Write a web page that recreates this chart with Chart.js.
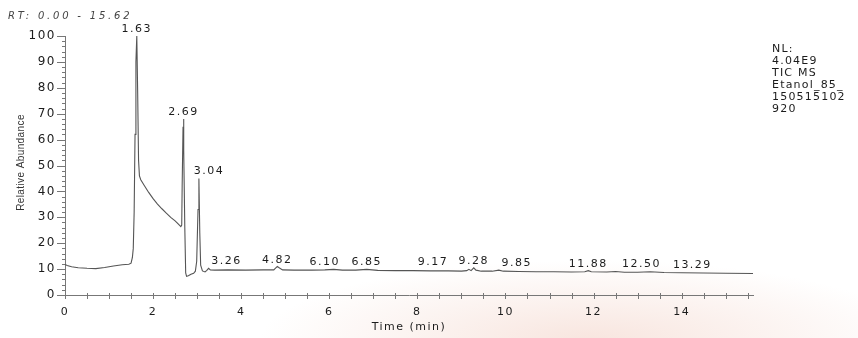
<!DOCTYPE html>
<html>
<head>
<meta charset="utf-8">
<title>TIC MS – Etanol_85</title>
<script src="https://cdn.jsdelivr.net/npm/chart.js@4/dist/chart.umd.min.js"></script>
<style>
  html, body { margin: 0; padding: 0; background: #fff; }
  #wrap {
    position: relative; width: 858px; height: 338px;
    background:
      radial-gradient(ellipse 330px 80px at 590px 340px, rgba(242, 208, 196, 0.55), rgba(255, 255, 255, 0) 100%),
      #fff;
  }
  canvas { display: block; }
</style>
</head>
<body>
<div id="wrap"><canvas id="c" width="858" height="338"></canvas></div>
<script>
// Total ion chromatogram: retention time (min) and relative abundance (%)
const times = [
  0.00, 0.05, 0.15, 0.30, 0.50, 0.70, 0.90, 1.10, 1.30, 1.45,
  1.50, 1.53, 1.55, 1.57, 1.59, 1.61, 1.63, 1.65, 1.67, 1.69,
  1.72, 1.80, 1.90, 2.00, 2.10, 2.20, 2.30, 2.40, 2.50, 2.58,
  2.63, 2.65, 2.66, 2.68, 2.69, 2.70, 2.72, 2.74, 2.76, 2.80,
  2.86, 2.92, 2.96, 2.99, 3.02, 3.04, 3.06, 3.08, 3.12, 3.18,
  3.22, 3.26, 3.30, 3.40, 3.70, 4.10, 4.50, 4.74, 4.78, 4.82,
  4.87, 4.94, 5.20, 5.60, 5.90, 6.10, 6.30, 6.60, 6.85, 7.10,
  7.50, 7.90, 8.30, 8.70, 9.00, 9.12, 9.17, 9.22, 9.28, 9.33,
  9.45, 9.70, 9.85, 9.95, 10.30, 10.70, 11.10, 11.50, 11.80, 11.88,
  11.95, 12.30, 12.50, 12.70, 13.00, 13.29, 13.60, 14.00, 14.50, 15.00,
  15.62
];
const abundance = [
  11.8, 11.4, 10.9, 10.5, 10.3, 10.2, 10.6, 11.2, 11.7, 11.9,
  12.3, 14.5, 18.0, 32.0, 62.0, 90.0, 100.0, 78.0, 52.0, 46.0,
  44.5, 42.3, 39.6, 37.2, 35.1, 33.3, 31.6, 30.0, 28.6, 27.3,
  26.4, 27.0, 42.0, 65.0, 68.0, 56.0, 26.0, 8.5, 7.2, 7.4,
  8.0, 8.4, 9.2, 13.0, 33.0, 45.0, 24.0, 11.5, 9.3, 8.9,
  9.5, 10.3, 9.7, 9.6, 9.7, 9.6, 9.7, 9.7, 10.4, 11.0,
  10.4, 9.7, 9.6, 9.6, 9.7, 9.9, 9.6, 9.6, 9.9, 9.5,
  9.4, 9.4, 9.3, 9.3, 9.2, 9.4, 9.9, 9.4, 10.5, 9.6,
  9.2, 9.2, 9.6, 9.2, 9.1, 9.0, 9.0, 8.9, 9.0, 9.4,
  9.0, 8.9, 9.1, 8.8, 8.8, 9.0, 8.7, 8.6, 8.5, 8.4,
  8.3
];

// Annotated peaks (retention times) and the sideways nudge of each label, in px
const peakTimes  = [1.63, 2.69, 3.04, 3.26, 4.82, 6.10, 6.85, 9.17, 9.28, 9.85, 11.88, 12.50, 13.29];
const labelShift = [0,    0,    10,   18,   0,    -9,   0,    -36,  0,    18,   0,     26,    42];

const rtRange = [0.00, 15.62];
const infoLines = ['NL:', '4.04E9', 'TIC MS', 'Etanol_85_', '150515102', '920'];

const FONT = '"DejaVu Sans", "Liberation Sans", sans-serif';
const INK = '#1c1c1c';
const AXIS = '#777';

// Spread-out lettering used by the printout
const spacing = {
  id: 'spacing',
  beforeDraw(chart) { chart.ctx.letterSpacing = '1.5px'; }
};

// Small ruler ticks on both axes (major every 10 %, minor every 2 %; x every 0.5 min)
const rulerTicks = {
  id: 'rulerTicks',
  afterDraw(chart) {
    const { ctx, chartArea } = chart;
    const xs = chart.scales.x, ys = chart.scales.y;
    ctx.save();
    ctx.strokeStyle = AXIS;
    ctx.lineWidth = 1;
    ctx.beginPath();
    xs.ticks.forEach(t => {
      const px = Math.round(xs.getPixelForValue(t.value)) + 0.5;
      ctx.moveTo(px, chartArea.bottom - 2);
      ctx.lineTo(px, chartArea.bottom + 4);
    });
    ys.ticks.forEach(t => {
      const py = Math.round(ys.getPixelForValue(t.value)) + 0.5;
      const major = Math.abs(t.value % 10) < 1e-9;
      ctx.moveTo(chartArea.left - (major ? 8 : 3), py);
      ctx.lineTo(chartArea.left, py);
    });
    ctx.stroke();
    ctx.restore();
  }
};

// Retention-time labels above each annotated peak
const peakLabels = {
  id: 'peakLabels',
  afterDatasetsDraw(chart) {
    const { ctx } = chart;
    const xs = chart.scales.x, ys = chart.scales.y;
    ctx.save();
    ctx.font = '11px ' + FONT;
    ctx.letterSpacing = '1.5px';
    ctx.fillStyle = INK;
    ctx.textAlign = 'center';
    ctx.textBaseline = 'alphabetic';
    peakTimes.forEach((rt, k) => {
      const idx = times.indexOf(rt);
      const px = xs.getPixelForValue(rt) + labelShift[k];
      const py = ys.getPixelForValue(abundance[idx]) - 4;
      ctx.fillText(rt.toFixed(2), px, py);
    });
    ctx.restore();
  }
};

// Header, y-axis title and the run information block
const frameText = {
  id: 'frameText',
  afterDraw(chart) {
    const { ctx, chartArea } = chart;
    ctx.save();
    ctx.fillStyle = '#444';
    ctx.font = 'italic 10px ' + FONT;
    ctx.letterSpacing = '2.8px';
    ctx.textAlign = 'left';
    ctx.textBaseline = 'middle';
    ctx.fillText('RT: ' + rtRange[0].toFixed(2) + ' - ' + rtRange[1].toFixed(2), 8, 16);

    ctx.fillStyle = '#333';
    ctx.font = '10px "Liberation Sans", Arial, sans-serif';
    ctx.letterSpacing = '0.4px';
    ctx.save();
    ctx.translate(21, (chartArea.top + chartArea.bottom) / 2 - 3);
    ctx.rotate(-Math.PI / 2);
    ctx.textAlign = 'center';
    ctx.fillText('Relative Abundance', 0, 0);
    ctx.restore();

    ctx.fillStyle = INK;
    ctx.font = '11px ' + FONT;
    ctx.letterSpacing = '1.2px';
    ctx.textAlign = 'left';
    infoLines.forEach((line, i) => ctx.fillText(line, 772, 49 + i * 12));
    ctx.restore();
  }
};

new Chart(document.getElementById('c'), {
  type: 'line',
  data: {
    datasets: [{
      data: times.map((t, i) => ({ x: t, y: abundance[i] })),
      borderColor: '#555',
      borderWidth: 1.1,
      pointRadius: 0,
      tension: 0,
      fill: false
    }]
  },
  options: {
    responsive: false,
    animation: false,
    events: [],
    layout: { padding: { left: 0, right: 105, top: 36, bottom: 0 } },
    plugins: { legend: { display: false }, tooltip: { enabled: false } },
    scales: {
      x: {
        type: 'linear',
        min: rtRange[0],
        max: rtRange[1],
        afterFit: s => { s.height = 43; },
        grid: { display: false, drawTicks: false },
        border: { display: true, color: AXIS, width: 1 },
        ticks: {
          stepSize: 0.5,
          includeBounds: false,
          autoSkip: false,
          maxRotation: 0,
          padding: 11,
          color: INK,
          font: { family: FONT, size: 11 },
          callback: v => (Math.abs(v % 2) < 1e-9 ? String(v) : '')
        },
        title: {
          display: true,
          text: 'Time (min)',
          color: INK,
          font: { family: FONT, size: 11 },
          padding: { top: 0, bottom: 4 }
        }
      },
      y: {
        min: 0,
        max: 100,
        afterFit: s => { s.width = 65; },
        grid: { display: false, drawTicks: false },
        border: { display: true, color: AXIS, width: 1 },
        ticks: {
          stepSize: 2,
          autoSkip: false,
          padding: 9,
          color: INK,
          font: { family: FONT, size: 12 },
          callback: v => (Math.abs(v % 10) < 1e-9 ? String(v) : '')
        }
      }
    }
  },
  plugins: [spacing, rulerTicks, peakLabels, frameText]
});
</script>
</body>
</html>
